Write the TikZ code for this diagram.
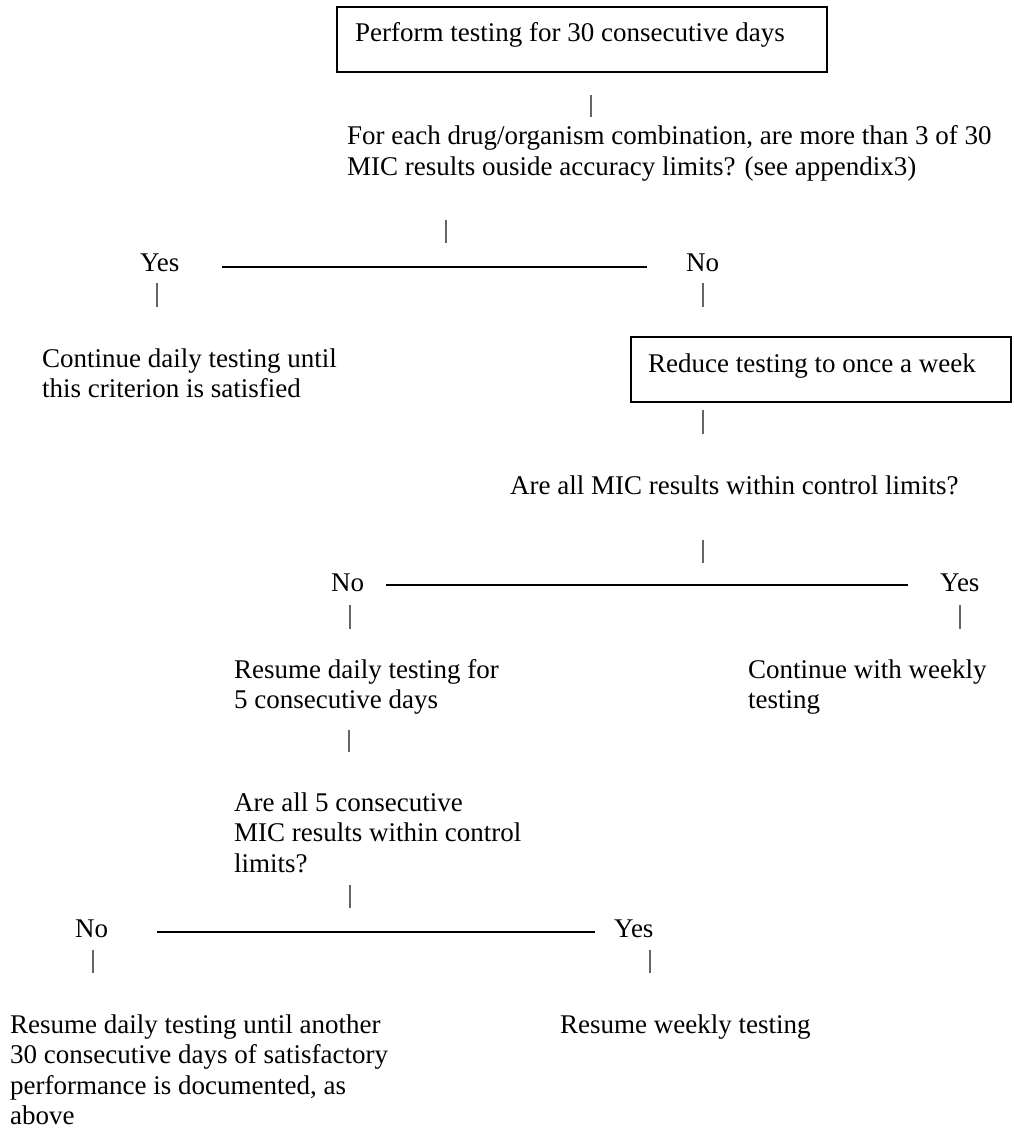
\documentclass[tikz,border=0pt]{standalone}
\usepackage{fontspec}
\setmainfont{Liberation Serif}
\newcommand{\mlines}[1]{\begin{tabular}[t]{@{}l@{}}#1\end{tabular}}
\begin{document}
\begin{tikzpicture}[x=1pt,y=-1pt,
  txt/.style={anchor=base west, inner sep=0pt, font=\fontsize{27}{30.5}\selectfont},
  frame/.style={draw, line width=1.8pt, anchor=north west, inner sep=0pt},
  hline/.style={line width=1.8pt},
  bar/.style={line width=1.4pt, black!60}]
\useasboundingbox (0,0) rectangle (1013,1131);
% boxes
\node[frame, minimum width=490pt, minimum height=65pt] (box1) at (336,6) {};
\node[txt] (t1) at (355,42) {Perform testing for 30 consecutive days};
\node[frame, minimum width=380pt, minimum height=65pt] (box2) at (630,336) {};
\node[txt] (t2) at (648,372) {Reduce testing to once a week};
% texts
\node[txt] (q1) at (347,145) {\mlines{For each drug/organism combination, are more than 3 of 30\\MIC results ouside accuracy limits? (see appendix3)}};
\node[txt] (yes1) at (140,272) {Yes};
\node[txt] (no1) at (686,272) {No};
\node[txt] (c1) at (42,367) {\mlines{Continue daily testing until\\this criterion is satisfied}};
\node[txt] (q2) at (510,494) {Are all MIC results within control limits?};
\node[txt] (no2) at (331,591) {No};
\node[txt] (yes2) at (940,591) {Yes};
\node[txt] (r1) at (234,678) {\mlines{Resume daily testing for\\5 consecutive days}};
\node[txt] (c2) at (748,678) {\mlines{Continue with weekly\\testing}};
\node[txt] (q3) at (234,811) {\mlines{Are all 5 consecutive\\MIC results within control\\limits?}};
\node[txt] (no3) at (75,937) {No};
\node[txt] (yes3) at (614,937) {Yes};
\node[txt] (r2) at (10,1033) {\mlines{Resume daily testing until another\\30 consecutive days of satisfactory\\performance is documented, as\\above}};
\node[txt] (r3) at (560,1033) {Resume weekly testing};
% horizontal lines
\coordinate (h1a) at (222,267); \coordinate (h1b) at (647,267);
\coordinate (h2a) at (386,585); \coordinate (h2b) at (908,585);
\coordinate (h3a) at (157,932); \coordinate (h3b) at (595,932);
\draw[hline] (h1a) -- (h1b);
\draw[hline] (h2a) -- (h2b);
\draw[hline] (h3a) -- (h3b);
% vertical bars
\foreach \n/\x/\ya/\yb in {1/591/95/117, 2/446/220/243, 3/157/283/307, 4/703/283/307,
  5/703/410/434, 6/703/540/563, 7/350/605/629, 8/960/605/629, 9/349/730/752,
  10/350/885/908, 11/93/950/973, 12/650/950/973}{
  \coordinate (v\n a) at (\x,\ya);
  \coordinate (v\n b) at (\x,\yb);
  \draw[bar] (v\n a) -- (v\n b);
}
\end{tikzpicture}
\end{document}
